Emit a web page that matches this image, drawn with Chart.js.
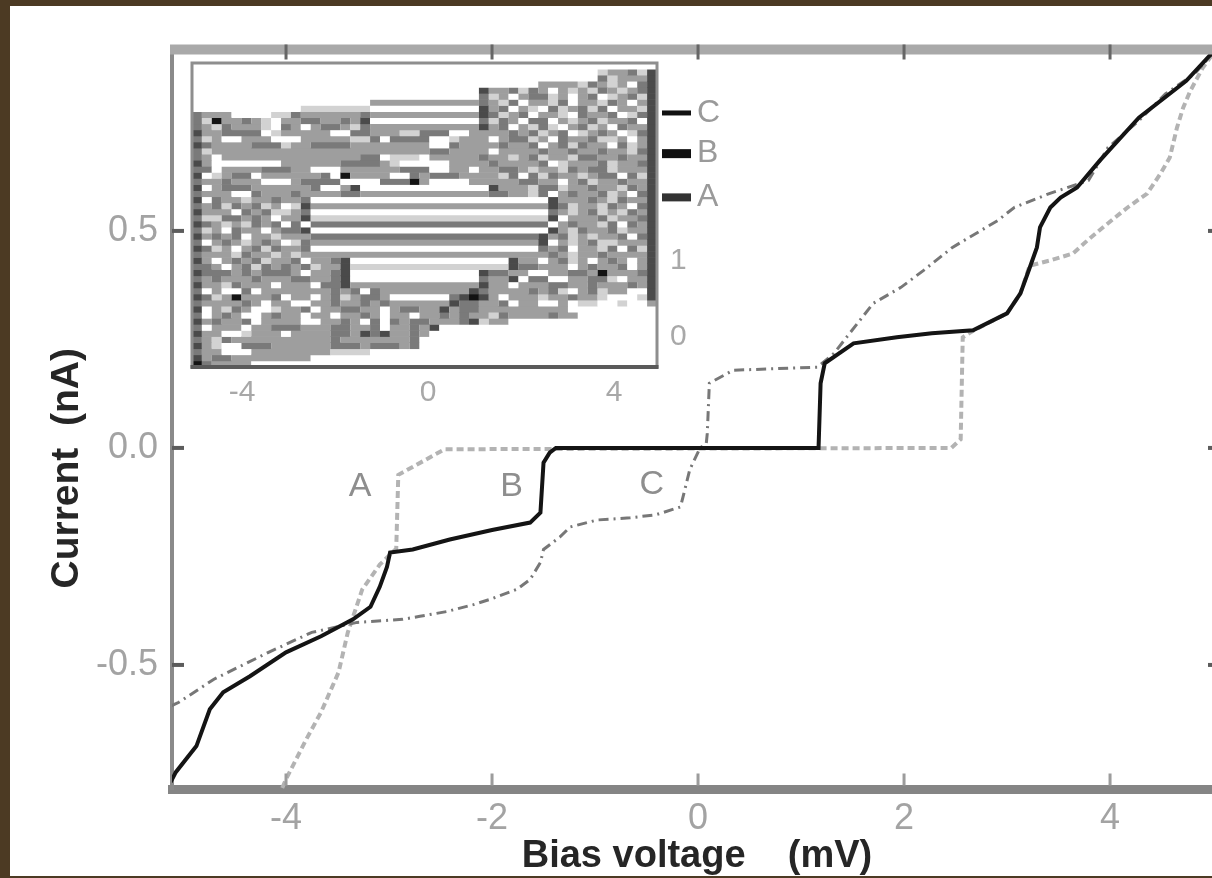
<!DOCTYPE html>
<html>
<head>
<meta charset="utf-8">
<script src="https://cdn.jsdelivr.net/npm/chart.js@4.4.1/dist/chart.umd.min.js"></script>
<style>
  html, body { margin: 0; padding: 0; width: 1212px; height: 878px; overflow: hidden; background: #4c3a23; }
  #sheet { position: absolute; left: 10px; top: 6px; width: 1220px; height: 870px; background: #fff; }
  #main { position: absolute; left: 0; top: 0; }
  #inset { position: absolute; left: 172px; top: 26px; }
</style>
</head>
<body>
<div id="sheet">
  <canvas id="main" width="1220" height="870"></canvas>
  <canvas id="inset" width="560" height="380"></canvas>
</div>
<script>
// I-V curves: bias (mV) -> current (nA)
const curveA_V = [-4.12, -4.0, -3.8, -3.66, -3.49, -3.4, -3.26, -3.09, -2.93, -2.91, -2.65, -2.46, 2.46, 2.55, 2.57, 2.67, 3.0, 3.13, 3.22, 3.42, 3.64, 3.78, 3.93, 4.17, 4.36, 4.49, 4.58, 4.65, 4.71, 4.78, 4.9, 5.05];
const curveA_I = [-0.83, -0.763, -0.67, -0.609, -0.517, -0.425, -0.326, -0.269, -0.232, -0.062, -0.028, -0.003, 0.0, 0.02, 0.255, 0.27, 0.31, 0.356, 0.42, 0.432, 0.448, 0.478, 0.508, 0.554, 0.586, 0.632, 0.669, 0.738, 0.784, 0.823, 0.876, 0.925];

const curveB_V = [-5.12, -5.07, -4.87, -4.74, -4.61, -4.35, -4.0, -3.66, -3.35, -3.18, -3.09, -3.02, -2.99, -2.77, -2.41, -2.0, -1.63, -1.53, -1.5, -1.44, -1.38, 1.17, 1.19, 1.23, 1.51, 1.93, 2.27, 2.67, 3.0, 3.13, 3.2, 3.29, 3.32, 3.42, 3.52, 3.68, 3.9, 4.28, 4.74, 4.92, 5.05];
const curveB_I = [-0.77, -0.747, -0.687, -0.602, -0.563, -0.526, -0.471, -0.434, -0.395, -0.366, -0.32, -0.274, -0.241, -0.234, -0.211, -0.189, -0.172, -0.149, -0.034, -0.011, 0.0, 0.0, 0.149, 0.195, 0.241, 0.255, 0.264, 0.271, 0.31, 0.356, 0.402, 0.462, 0.508, 0.554, 0.577, 0.6, 0.662, 0.761, 0.846, 0.892, 0.925];

const curveC_V = [-5.12, -5.04, -4.7, -4.17, -3.75, -3.31, -2.87, -2.7, -2.44, -2.18, -2.02, -1.76, -1.63, -1.53, -1.5, -1.34, -1.24, -0.98, -0.66, -0.41, -0.17, -0.08, 0.02, 0.08, 0.09, 0.11, 0.34, 1.16, 1.32, 1.7, 1.97, 2.19, 2.47, 2.91, 3.07, 3.41, 3.79, 3.98, 4.28, 4.54, 4.82, 4.96, 5.05];
const curveC_I = [-0.595, -0.586, -0.533, -0.471, -0.425, -0.402, -0.395, -0.388, -0.377, -0.361, -0.349, -0.326, -0.303, -0.264, -0.234, -0.205, -0.182, -0.166, -0.161, -0.154, -0.136, -0.05, 0.0, 0.01, 0.034, 0.149, 0.179, 0.186, 0.218, 0.333, 0.37, 0.409, 0.462, 0.524, 0.554, 0.586, 0.616, 0.692, 0.754, 0.816, 0.862, 0.899, 0.925];

const xTicks = [-4, -2, 0, 2, 4];
const yTicks = [-0.5, 0, 0.5];

// curve letters placed in the plot
const curveNames = ['A', 'B', 'C'];
const curveLabelV = [-3.28, -1.81, -0.45];
const curveLabelI = [-0.09, -0.09, -0.085];

// inset: grey-level map (0 white ... 5 black), one string per row, top row first
const insetRows = [
  "0000000000 0000000000 0000000000 0000000000 0000000",
  "0000000000 0000000000 0000000000 0000000000 0122314",
  "0000000000 0000000000 0000000000 0000000000 0312224",
  "0000000000 0000000000 0000000000 0000022221 3212034",
  "0000000000 0000000000 0000000004 2231320212 1321234",
  "0000000000 0000000000 0000000003 1202331202 3012314",
  "0000000000 0000000022 2222222223 2130221302 2132024",
  "0000000000 0111111100 0000000004 2302103123 1302214",
  "3222000011 3222222322 2222222224 3123022103 2230134",
  "3152232102 2332232400 0000000003 1320330212 3122304",
  "3213222103 2023321322 2222222224 2302131023 1203224",
  "4223333012 2222003322 2113330022 2232312301 2320134",
  "3120022200 0222221130 3333001222 0233120322 3112024",
  "4322223331 2233332222 2222003222 2322302313 2203124",
  "3122222222 2222222222 2222332222 0222232232 2322134",
  "3202222222 2222222330 1110222223 2212312213 3223224",
  "4200000002 2222233332 1000002222 3222230122 2312234",
  "3302222333 2200022222 2333002202 2332122132 3312224",
  "4012330222 2223052222 0032333222 2130313221 2330314",
  "3223222000 2333300003 3352000022 2223322023 1223224",
  "4023332222 2230024000 0000000000 4222133122 3221324",
  "3222003222 3222233222 2222222222 3322130232 2312034",
  "4032212232 2300000000 0000000000 0000004222 3213224",
  "3231323120 1422222222 2222222222 2222224312 2132034",
  "4222032311 2300000000 0000000000 0000003212 3121324",
  "3113323202 2411111111 1111111111 1111114022 2312234",
  "4321213230 3033333333 3333333333 3333330232 2130324",
  "3120322023 3400000000 0000000000 0000004213 2231224",
  "4232302212 2233333333 3333333333 3333342312 1223034",
  "3023212320 1322222222 2222222222 2222240212 3112224",
  "4312023132 2300000000 0000000000 0000032302 2130314",
  "3222132212 1222222222 2222222222 2222223212 2322224",
  "4202323122 3022340000 0000000000 0042202312 0232024",
  "3320231323 2312241111 1111111111 1143322202 3223024",
  "4333232333 2022340000 0000000004 3322002233 2522234",
  "3232223222 3322340000 0000000003 2240330022 3310224",
  "4221322202 2203342222 2222222224 2202223322 3222324",
  "3020030222 2222323032 2222222243 2222323102 3122004",
  "4312522230 2202312332 0000003454 2022212232 2100014",
  "3222232022 0022322323 2222224332 2302200201 1001002",
  "4021320012 2302233220 2332242332 2222222200 0000000",
  "3023200232 2022022320 2202232322 1322223220 0000000",
  "4232230222 2002232030 3233222341 2200000000 0000000",
  "3022202233 3222332230 2232400000 0000000000 0000000",
  "4220012220 2222332434 2232000000 0000000000 0000000",
  "3213222222 2222322222 2230000000 0000000000 0000000",
  "4210033322 2222333233 3230000000 0000000000 0000000",
  "3220002222 2222111100 0000000000 0000000000 0000000",
  "4233222222 2200000000 0000000000 0000000000 0000000",
  "5322220000 0000000000 0000000000 0000000000 0000000"
].map(r => r.replace(/ /g, ''));
const insetXTicks = [-4, 0, 4];
const insetYTicks = [0, 1];
const insetMarkNames = ['A', 'B', 'C'];
const insetMarkLevels = [1.82, 2.39, 2.92];

const grey = { '0': '#ffffff', '1': '#d2d2d2', '2': '#9e9e9e', '3': '#7a7a7a', '4': '#4a4a4a', '5': '#131313' };
const sans = '"Liberation Sans", Arial, sans-serif';

function pts(xs, ys) {
  return xs.map((x, i) => ({ x: x, y: ys[i] }));
}

const frame = {
  id: 'frame',
  afterDatasetsDraw(chart) {
    const { ctx, chartArea: a, scales } = chart;
    const x = scales.x, y = scales.y;
    ctx.save();
    ctx.fillStyle = '#a9a9a9';
    ctx.fillRect(a.left - 2, a.top - 5, a.right - a.left + 4, 10);
    ctx.fillStyle = '#888';
    ctx.fillRect(a.right - 2, a.top, 4, a.bottom - a.top);
    ctx.fillStyle = '#666';
    xTicks.forEach(v => ctx.fillRect(x.getPixelForValue(v) - 1.5, a.top - 5, 3, 15));
    ctx.fillStyle = '#9c9c9c';
    xTicks.forEach(v => ctx.fillRect(x.getPixelForValue(v) - 1.5, a.bottom - 16, 3, 12));
    ctx.fillStyle = '#5c5c5c';
    yTicks.forEach(v => {
      const py = y.getPixelForValue(v);
      ctx.fillRect(a.left, py - 2, 12, 4);
      ctx.fillRect(a.right - 14, py - 2, 14, 4);
    });
    ctx.font = '34px ' + sans;
    ctx.fillStyle = '#8e8e8e';
    ctx.textAlign = 'center';
    ctx.textBaseline = 'middle';
    curveNames.forEach((n, i) => ctx.fillText(n, x.getPixelForValue(curveLabelV[i]), y.getPixelForValue(curveLabelI[i])));
    ctx.restore();
  }
};

new Chart(document.getElementById('main'), {
  type: 'scatter',
  data: {
    datasets: [
      { label: 'B', data: pts(curveB_V, curveB_I), showLine: true, borderColor: '#141414', borderWidth: 4, pointRadius: 0 },
      { label: 'C', data: pts(curveC_V, curveC_I), showLine: true, borderColor: '#777', borderWidth: 3, borderDash: [10, 5, 2, 5], pointRadius: 0 },
      { label: 'A', data: pts(curveA_V, curveA_I), showLine: true, borderColor: '#b3b3b3', borderWidth: 4, borderDash: [7, 4], pointRadius: 0 }
    ]
  },
  options: {
    responsive: false,
    animation: false,
    layout: { padding: { left: 0, right: 8, top: 43.5, bottom: 0 } },
    plugins: { legend: { display: false }, tooltip: { enabled: false } },
    scales: {
      x: {
        type: 'linear', min: -5.107, max: 5.087,
        afterBuildTicks: s => { s.ticks = xTicks.map(v => ({ value: v })); },
        afterFit: s => { s.height = 86.5; },
        grid: { display: false, drawTicks: false },
        border: { display: true, color: '#858585', width: 9 },
        ticks: { padding: 8, color: '#a3a3a3', font: { family: sans, size: 36 }, callback: v => String(v) },
        title: { display: true, text: 'Bias voltage    (mV)', color: '#262626', font: { family: sans, size: 38, weight: 'bold', lineHeight: 1 }, padding: { top: 0, bottom: 0 } }
      },
      y: {
        type: 'linear', min: -0.787, max: 0.918,
        afterBuildTicks: s => { s.ticks = yTicks.map(v => ({ value: v })); },
        afterFit: s => { s.width = 162; },
        grid: { display: false, drawTicks: false },
        border: { display: true, color: '#8a8a8a', width: 4 },
        ticks: { padding: 14, color: '#a3a3a3', font: { family: sans, size: 36 }, callback: v => v.toFixed(1) },
        title: { display: true, text: 'Current  (nA)' + '\u00a0'.repeat(9), color: '#262626', font: { family: sans, size: 39, weight: 'bold', lineHeight: 1 }, padding: { top: 38, bottom: 0 } }
      }
    }
  },
  plugins: [frame]
});

// inset
const insetXMin = -5.075, insetXMax = 4.925, insetYMin = -0.39, insetYMax = 3.571;
const insetCols = insetRows[0].length;
const colW = (insetXMax - insetXMin) / insetCols;
const rowH = (insetYMax - insetYMin) / insetRows.length;

const insetSets = insetRows.map((row, r) => {
  const yc = insetYMax - (r + 0.5) * rowH;
  const data = [];
  for (let c = 0; c <= insetCols; c++) data.push({ x: insetXMin + c * colW, y: yc });
  return {
    data: data, showLine: true, pointRadius: 0, borderWidth: 6.7, borderCapStyle: 'butt',
    borderColor: '#fff',
    segment: { borderColor: ctx => grey[row[ctx.p0DataIndex]] || '#fff' }
  };
});

const insetFrame = {
  id: 'insetFrame',
  afterDatasetsDraw(chart) {
    const { ctx, chartArea: a, scales } = chart;
    const y = scales.y;
    ctx.save();
    ctx.strokeStyle = '#8e8e8e';
    ctx.lineWidth = 3;
    ctx.strokeRect(a.left, a.top, a.right - a.left, a.bottom - a.top);
    ctx.fillStyle = '#5a5a5a';
    ctx.fillRect(a.left - 1.5, a.bottom - 2, a.right - a.left + 3, 4);
    const barH = [8, 9, 5];
    ctx.font = '32px ' + sans;
    ctx.textAlign = 'left';
    ctx.textBaseline = 'middle';
    insetMarkNames.forEach((n, i) => {
      const py = y.getPixelForValue(insetMarkLevels[i]);
      ctx.fillStyle = i === 0 ? '#333' : '#111';
      ctx.fillRect(a.right + 5, py - barH[i] / 2, 29, barH[i]);
      ctx.fillStyle = '#9a9a9a';
      ctx.fillText(n, a.right + 40, py);
    });
    ctx.restore();
  }
};

new Chart(document.getElementById('inset'), {
  type: 'scatter',
  data: { datasets: insetSets },
  options: {
    responsive: false,
    animation: false,
    layout: { padding: { left: 10, right: 0, top: 30, bottom: 0 } },
    plugins: { legend: { display: false }, tooltip: { enabled: false } },
    scales: {
      x: {
        type: 'linear', min: insetXMin, max: insetXMax,
        afterBuildTicks: s => { s.ticks = insetXTicks.map(v => ({ value: v })); },
        afterFit: s => { s.height = 45; },
        grid: { display: false, drawTicks: false },
        border: { display: false },
        ticks: { padding: 8, color: '#a8a8a8', font: { family: sans, size: 30 }, callback: v => String(v) }
      },
      y: {
        type: 'linear', position: 'right', min: insetYMin, max: insetYMax,
        afterBuildTicks: s => { s.ticks = insetYTicks.map(v => ({ value: v })); },
        afterFit: s => { s.width = 85; },
        grid: { display: false, drawTicks: false },
        border: { display: false },
        ticks: { padding: 13, color: '#a8a8a8', font: { family: sans, size: 30 }, callback: v => String(v) }
      }
    }
  },
  plugins: [insetFrame]
});
</script>
</body>
</html>
